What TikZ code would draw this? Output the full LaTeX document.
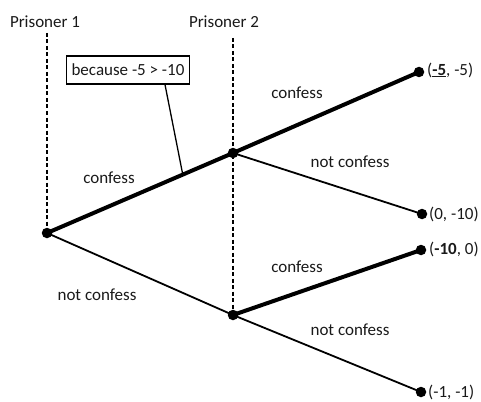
\documentclass[tikz,border=0pt]{standalone}
\usepackage{fontspec}
\setmainfont{Carlito}
\begin{document}
\begin{tikzpicture}[x=1pt,y=-1pt,
  every node/.style={font=\fontsize{17}{19}\selectfont, text=black!90},
  dot/.style={circle,fill=black,inner sep=0pt,minimum size=10.5pt},
  thickedge/.style={line width=4pt},
  thinedge/.style={line width=1.8pt},
  guide/.style={line width=1.6pt,dash pattern=on 4pt off 2.5pt},
  lab/.style={inner sep=1pt},
  pay/.style={anchor=west,inner sep=1pt}]
\useasboundingbox (0,0) rectangle (481,401);
% dots
\node[dot] (r) at (47,233) {};
\node[dot] (u) at (233,153) {};
\node[dot] (d) at (233,315) {};
\node[dot] (l1) at (419,72) {};
\node[dot] (l2) at (422,214) {};
\node[dot] (l3) at (421,250) {};
\node[dot] (l4) at (421,392) {};
% player labels
\node (p1) at (45,22) {Prisoner 1};
\node (p2) at (224,22) {Prisoner 2};
\coordinate (t1) at (47,33);
\coordinate (t2) at (233,38);
\draw[guide] (t1) -- (r.center);
\draw[guide] (t2) -- (d.center);
% edges
\draw[thickedge] (r.center) -- coordinate[pos=0.73] (ann) (u.center);
\draw[thinedge] (r.center) -- (d.center);
\draw[thickedge] (u.center) -- (l1.center);
\draw[thinedge] (u.center) -- (l2.center);
\draw[thickedge] (d.center) -- (l3.center);
\draw[thinedge] (d.center) -- (l4.center);
% annotation
\node[draw,line width=1.3pt,inner xsep=5pt,inner ysep=8pt] (box) at (128,70) {because -5 > -10};
\draw[line width=1.3pt] ([xshift=37pt]box.south) -- (ann);
% edge labels
\node[lab] (c1) at (109,178) {confess};
\node[lab] (n1) at (97,295) {not confess};
\node[lab] (c2) at (297,93) {confess};
\node[lab] (n2) at (350,162) {not confess};
\node[lab] (c3) at (297,267) {confess};
\node[lab] (n3) at (350,330) {not confess};
% payoffs
\node[pay] (q1) at ([xshift=7pt,yshift=2pt]l1.center) {(\underline{\textbf{-5}}, -5)};
\node[pay] (q2) at ([xshift=6pt,yshift=0pt]l2.center) {(0, -10)};
\node[pay] (q3) at ([xshift=7pt,yshift=1pt]l3.center) {(\textbf{-10}, 0)};
\node[pay] (q4) at ([xshift=6pt,yshift=0pt]l4.center) {(-1, -1)};
\end{tikzpicture}
\end{document}
